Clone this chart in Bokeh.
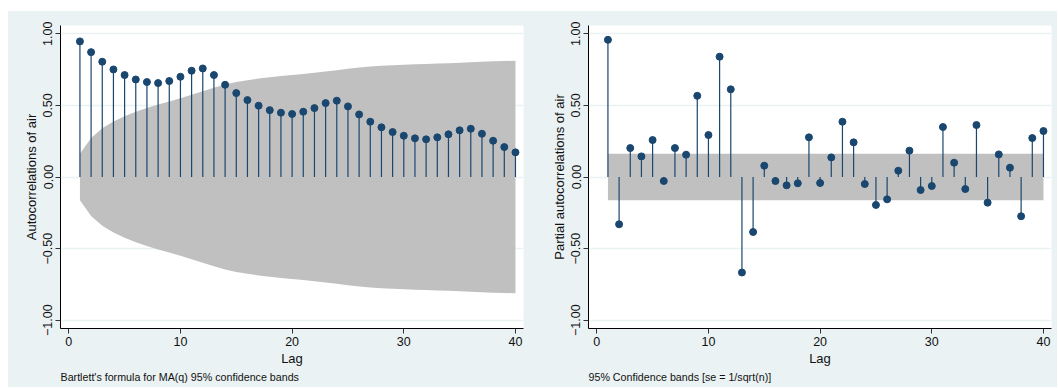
from bokeh.plotting import figure
from bokeh.layouts import row
from bokeh.models import FixedTicker, CustomJSTickFormatter, Range1d, Title
from bokeh.embed import file_html
from bokeh.resources import INLINE

# ---------------- data ----------------
lags = list(range(1, 41))

acf = [0.947, 0.872, 0.805, 0.751, 0.712, 0.681, 0.663, 0.656, 0.670, 0.700,
       0.742, 0.758, 0.712, 0.644, 0.586, 0.537, 0.498, 0.467, 0.449, 0.440,
       0.456, 0.481, 0.516, 0.533, 0.493, 0.437, 0.386, 0.347, 0.314, 0.288,
       0.270, 0.263, 0.277, 0.298, 0.326, 0.337, 0.302, 0.253, 0.209, 0.172]

# Bartlett 95% band (upper edge; lower edge is its negative)
acf_band = [0.163, 0.273, 0.340, 0.388, 0.425, 0.456, 0.482, 0.506, 0.528, 0.550,
            0.574, 0.599, 0.624, 0.646, 0.663, 0.676, 0.688, 0.697, 0.706, 0.713,
            0.720, 0.728, 0.737, 0.746, 0.756, 0.765, 0.771, 0.777, 0.781, 0.784,
            0.787, 0.790, 0.792, 0.794, 0.797, 0.801, 0.805, 0.808, 0.810, 0.812]

pacf = [0.958, -0.330, 0.202, 0.144, 0.258, -0.028, 0.202, 0.156, 0.567, 0.293,
        0.840, 0.612, -0.667, -0.384, 0.079, -0.028, -0.058, -0.044, 0.277, -0.042,
        0.137, 0.386, 0.242, -0.049, -0.195, -0.156, 0.044, 0.184, -0.091, -0.063,
        0.349, 0.100, -0.084, 0.363, -0.179, 0.158, 0.065, -0.274, 0.272, 0.321]

pacf_band = 0.163  # 1.96/sqrt(n)

x_ticks = [0, 10, 20, 30, 40]
y_ticks = [-1.0, -0.5, 0.0, 0.5, 1.0]

acf_title = "Autocorrelations of air"
pacf_title = "Partial autocorrelations of air"
x_title = "Lag"
acf_note = "Bartlett's formula for MA(q) 95% confidence bands"
pacf_note = "95% Confidence bands [se = 1/sqrt(n)]"

# ---------------- style ----------------
BG = "#EAF2F3"
NAVY = "#1A476F"
BAND = "#C0C0C0"
GRID = "#EAF2F3"
FONT = "Liberation Sans"
TXT = "#111111"


def make_panel(width, border_right, ytitle, note):
    p = figure(width=width, height=376, output_backend="svg", toolbar_location=None,
               x_range=Range1d(-0.74, 40.72), y_range=Range1d(-1.058, 1.058),
               min_border_left=52, min_border_right=border_right,
               min_border_top=14, min_border_bottom=59)
    p.border_fill_color = BG
    p.background_fill_color = "white"
    p.outline_line_color = None

    p.xgrid.grid_line_color = None
    p.ygrid.grid_line_color = GRID
    p.ygrid.grid_line_width = 1.5

    p.yaxis.ticker = FixedTicker(ticks=y_ticks)
    p.xaxis.ticker = FixedTicker(ticks=x_ticks)
    p.yaxis.formatter = CustomJSTickFormatter(
        code="return (tick < 0 ? '\u2212' : '') + Math.abs(tick).toFixed(2);")
    p.yaxis.major_label_orientation = "vertical"

    for ax in (p.xaxis, p.yaxis):
        ax.axis_line_color = "#000000"
        ax.axis_line_width = 1
        ax.major_tick_line_color = "#333333"
        ax.major_tick_out = 5
        ax.major_tick_in = 0
        ax.minor_tick_line_color = None
        ax.major_label_text_font = FONT
        ax.major_label_text_font_size = "12.5px"
        ax.major_label_text_color = TXT
        ax.axis_label_text_font = FONT
        ax.axis_label_text_font_size = "13px"
        ax.axis_label_text_font_style = "normal"
        ax.axis_label_text_color = TXT
        ax.major_label_standoff = 3
        ax.axis_label_standoff = 2

    p.yaxis.axis_label = ytitle
    p.xaxis.axis_label = x_title

    t = Title(text=note, align="left", text_font=FONT, text_font_size="10.7px",
              text_font_style="normal", text_color=TXT, standoff=0, offset=0,
              text_line_height=0.9)
    p.add_layout(t, "below")
    return p


p1 = make_panel(528, 13, acf_title, acf_note)
p1.varea(x=lags, y1=[-b for b in acf_band], y2=acf_band, fill_color=BAND, fill_alpha=1)
p1.segment(x0=lags, y0=[0] * len(lags), x1=lags, y1=acf, line_color=NAVY, line_width=1.2)
p1.scatter(x=lags, y=acf, size=7, fill_color=NAVY, line_color=NAVY)

p2 = make_panel(521, 6, pacf_title, pacf_note)
p2.varea(x=[lags[0], lags[-1]], y1=[-pacf_band, -pacf_band], y2=[pacf_band, pacf_band],
         fill_color=BAND, fill_alpha=1)
p2.segment(x0=lags, y0=[0] * len(lags), x1=lags, y1=pacf, line_color=NAVY, line_width=1.2)
p2.scatter(x=lags, y=pacf, size=7, fill_color=NAVY, line_color=NAVY)

layout = row(p1, p2, spacing=0, margin=(11, 0, 0, 8), styles={"background-color": BG})
open("out.html", "w").write(file_html(layout, INLINE))
